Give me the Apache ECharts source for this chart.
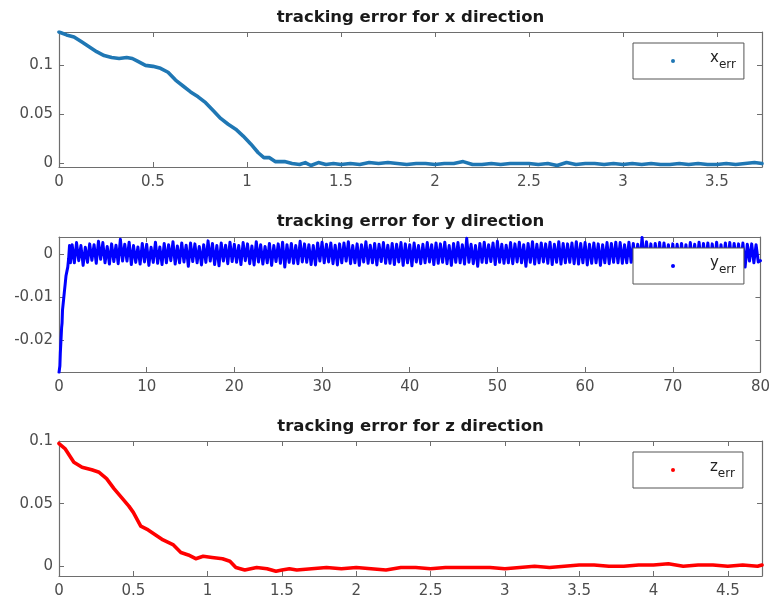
<!DOCTYPE html>
<html>
<head>
<meta charset="utf-8">
<script src="https://cdn.jsdelivr.net/npm/echarts@6/dist/echarts.min.js"></script>
<style>
  html, body { margin: 0; padding: 0; background: #fff; }
  #chart { width: 773px; height: 608px; }
</style>
</head>
<body>
<div id="chart"></div>
<script>
// ---------- data ----------
var titles = ['tracking error for x direction', 'tracking error for y direction', 'tracking error for z direction'];
var seriesNames = ['x_err', 'y_err', 'z_err'];

var xErr = [[0,0.134],[0.04,0.131],[0.08,0.129],[0.12,0.124],[0.16,0.119],[0.2,0.114],[0.24,0.110],[0.28,0.108],[0.32,0.107],[0.36,0.108],[0.39,0.107],[0.42,0.104],[0.46,0.100],[0.5,0.099],[0.54,0.097],[0.58,0.093],[0.62,0.085],[0.66,0.079],[0.7,0.073],[0.74,0.068],[0.78,0.062],[0.82,0.054],[0.86,0.046],[0.9,0.040],[0.94,0.035],[0.98,0.028],[1.02,0.020],[1.06,0.011],[1.09,0.006],[1.12,0.006],[1.15,0.002],[1.2,0.002],[1.24,0.000],[1.28,-0.001],[1.31,0.001],[1.34,-0.002],[1.38,0.001],[1.42,-0.001],[1.46,0.000],[1.5,-0.001],[1.55,0.000],[1.6,-0.001],[1.65,0.001],[1.7,0.000],[1.75,0.001],[1.8,0.000],[1.85,-0.001],[1.9,0.000],[1.95,0.000],[2.0,-0.001],[2.05,0.000],[2.1,0.000],[2.15,0.002],[2.2,-0.001],[2.25,-0.001],[2.3,0.000],[2.35,-0.001],[2.4,0.000],[2.45,0.000],[2.5,0.000],[2.55,-0.001],[2.6,0.000],[2.65,-0.002],[2.7,0.001],[2.75,-0.001],[2.8,0.000],[2.85,0.000],[2.9,-0.001],[2.95,0.000],[3.0,-0.001],[3.05,0.000],[3.1,-0.001],[3.15,0.000],[3.2,-0.001],[3.25,-0.001],[3.3,0.000],[3.35,-0.001],[3.4,0.000],[3.45,-0.001],[3.5,-0.001],[3.55,0.000],[3.6,-0.001],[3.65,0.000],[3.7,0.001],[3.74,0.000]];

var yErr = [[0,-0.0275],[0.1,-0.026],[0.15,-0.023],[0.2,-0.021],[0.25,-0.019],[0.3,-0.017],[0.35,-0.016],[0.4,-0.013],[0.5,-0.011],[0.6,-0.009],[0.7,-0.007],[0.8,-0.005],[0.9,-0.004],[1.0,-0.003],[1.1,-0.001],[1.2,0.002],[1.3,-0.002],
[1.5,0.0022],[1.75,-0.0020],[2,0.0027],[2.25,-0.0015],[2.5,0.0020],[2.75,-0.0026],[3,0.0016],[3.25,-0.0019],[3.5,0.0024],[3.75,-0.0014],[4,0.0022],[4.25,-0.0021],[4.5,0.0030],[4.75,-0.0012],[5,0.0027],[5.25,-0.0020],[5.5,0.0018],[5.75,-0.0023],[6,0.0024],[6.25,-0.0017],
[6.5,0.0021],[6.75,-0.0022],[7,0.0035],[7.25,-0.0016],[7.5,0.0023],[7.75,-0.0016],[8,0.0028],[8.25,-0.0024],[8.5,0.0020],[8.75,-0.0019],[9,0.0017],[9.25,-0.0023],[9.5,0.0025],[9.75,-0.0018],[10,0.0023],[10.25,-0.0026],[10.5,0.0016],[10.75,-0.0019],[11,0.0028],[11.25,-0.0021],
[11.5,0.0017],[11.75,-0.0024],[12,0.0025],[12.25,-0.0020],[12.5,0.0022],[12.75,-0.0015],[13,0.0029],[13.25,-0.0023],[13.5,0.0019],[13.75,-0.0020],[14,0.0026],[14.25,-0.0018],[14.5,0.0021],[14.75,-0.0028],[15,0.0026],[15.25,-0.0017],[15.5,0.0024],[15.75,-0.0020],[16,0.0018],[16.25,-0.0025],
[16.5,0.0022],[16.75,-0.0019],[17,0.0031],[17.25,-0.0016],[17.5,0.0025],[17.75,-0.0024],[18,0.0020],[18.25,-0.0027],[18.5,0.0026],[18.75,-0.0016],[19,0.0021],[19.25,-0.0022],[19.5,0.0028],[19.75,-0.0017],[20,0.0023],[20.25,-0.0019],[20.5,0.0020],[20.75,-0.0024],[21,0.0027],[21.25,-0.0015],
[21.5,0.0024],[21.75,-0.0022],[22,0.0019],[22.25,-0.0025],[22.5,0.0029],[22.75,-0.0018],[23,0.0022],[23.25,-0.0023],[23.5,0.0018],[23.75,-0.0020],[24,0.0025],[24.25,-0.0026],[24.5,0.0020],[24.75,-0.0017],[25,0.0024],[25.25,-0.0021],[25.5,0.0028],[25.75,-0.0030],[26,0.0022],[26.25,-0.0019],
[26.5,0.0025],[26.75,-0.0021],[27,0.0020],[27.25,-0.0022],[27.5,0.0030],[27.75,-0.0018],[28,0.0024],[28.25,-0.0019],[28.5,0.0022],[28.75,-0.0024],[29,0.0020],[29.25,-0.0025],[29.5,0.0026],[29.75,-0.0016],[30,0.0028],[30.25,-0.0020],[30.5,0.0023],[30.75,-0.0018],[31,0.0026],[31.25,-0.0022],
[31.5,0.0021],[31.75,-0.0025],[32,0.0024],[32.25,-0.0020],[32.5,0.0026],[32.75,-0.0016],[33,0.0029],[33.25,-0.0022],[33.5,0.0020],[33.75,-0.0020],[34,0.0024],[34.25,-0.0026],[34.5,0.0022],[34.75,-0.0018],[35,0.0029],[35.25,-0.0021],[35.5,0.0021],[35.75,-0.0020],[36,0.0025],[36.25,-0.0025],
[36.5,0.0023],[36.75,-0.0017],[37,0.0027],[37.25,-0.0021],[37.5,0.0021],[37.75,-0.0021],[38,0.0025],[38.25,-0.0024],[38.5,0.0023],[38.75,-0.0018],[39,0.0027],[39.25,-0.0026],[39.5,0.0024],[39.75,-0.0020],[40,0.0022],[40.25,-0.0027],[40.5,0.0026],[40.75,-0.0018],[41,0.0020],[41.25,-0.0022],
[41.5,0.0023],[41.75,-0.0020],[42,0.0027],[42.25,-0.0018],[42.5,0.0022],[42.75,-0.0024],[43,0.0026],[43.25,-0.0021],[43.5,0.0024],[43.75,-0.0019],[44,0.0028],[44.25,-0.0022],[44.5,0.0020],[44.75,-0.0026],[45,0.0025],[45.25,-0.0019],[45.5,0.0027],[45.75,-0.0020],[46,0.0022],[46.25,-0.0023],
[46.5,0.0037],[46.75,-0.0019],[47,0.0023],[47.25,-0.0022],[47.5,0.0020],[47.75,-0.0028],[48,0.0025],[48.25,-0.0019],[48.5,0.0028],[48.75,-0.0020],[49,0.0022],[49.25,-0.0017],[49.5,0.0026],[49.75,-0.0024],[50,0.0030],[50.25,-0.0019],[50.5,0.0023],[50.75,-0.0021],[51,0.0021],[51.25,-0.0020],
[51.5,0.0027],[51.75,-0.0022],[52,0.0024],[52.25,-0.0018],[52.5,0.0028],[52.75,-0.0020],[53,0.0022],[53.25,-0.0028],[53.5,0.0025],[53.75,-0.0019],[54,0.0029],[54.25,-0.0023],[54.5,0.0023],[54.75,-0.0020],[55,0.0026],[55.25,-0.0018],[55.5,0.0024],[55.75,-0.0021],[56,0.0028],[56.25,-0.0024],
[56.5,0.0023],[56.75,-0.0019],[57,0.0029],[57.25,-0.0023],[57.5,0.0025],[57.75,-0.0020],[58,0.0024],[58.25,-0.0019],[58.5,0.0026],[58.75,-0.0022],[59,0.0029],[59.25,-0.0023],[59.5,0.0025],[59.75,-0.0020],[60,0.0027],[60.25,-0.0025],[60.5,0.0023],[60.75,-0.0021],[61,0.0026],[61.25,-0.0020],
[61.5,0.0024],[61.75,-0.0026],[62,0.0022],[62.25,-0.0020],[62.5,0.0027],[62.75,-0.0022],[63,0.0025],[63.25,-0.0019],[63.5,0.0028],[63.75,-0.0020],[64,0.0027],[64.25,-0.0021],[64.5,0.0022],[64.75,-0.0020],[65,0.0028],[65.25,-0.0019],[65.5,0.0025],[65.75,-0.0022],[66,0.0023],[66.25,-0.0019],
[66.5,0.0039],[66.75,-0.0020],[67,0.0029],[67.25,-0.0019],[67.5,0.0024],[67.75,-0.0023],[68,0.0025],[68.25,-0.0020],[68.5,0.0027],[68.75,-0.0019],[69,0.0026],[69.25,-0.0017],[69.5,0.0022],[69.75,-0.0030],[70,0.0024],[70.25,-0.0015],[70.5,0.0023],[70.75,-0.0021],[71,0.0025],[71.25,-0.0020],
[71.5,0.0022],[71.75,-0.0023],[72,0.0027],[72.25,-0.0018],[72.5,0.0023],[72.75,-0.0021],[73,0.0028],[73.25,-0.0022],[73.5,0.0025],[73.75,-0.0019],[74,0.0026],[74.25,-0.0021],[74.5,0.0024],[74.75,-0.0020],[75,0.0028],[75.25,-0.0023],[75.5,0.0022],[75.75,-0.0019],[76,0.0026],[76.25,-0.0020],
[76.5,0.0027],[76.75,-0.0019],[77,0.0025],[77.25,-0.0018],[77.5,0.0024],[77.75,-0.0022],[78,0.0026],[78.25,-0.0030],[78.5,0.0023],[78.75,-0.0016],[79,0.0024],[79.25,-0.0020],[79.5,0.0022],[79.75,-0.0018],[80,-0.0015]];

var zErr = [[0,0.098],[0.04,0.094],[0.1,0.083],[0.155,0.079],[0.22,0.077],[0.27,0.075],[0.32,0.070],[0.37,0.062],[0.42,0.055],[0.47,0.048],[0.5,0.043],[0.55,0.032],[0.6,0.029],[0.65,0.025],[0.7,0.021],[0.77,0.017],[0.82,0.011],[0.87,0.009],[0.92,0.006],[0.97,0.008],[1.03,0.007],[1.1,0.006],[1.15,0.004],[1.19,-0.001],[1.25,-0.003],[1.33,-0.001],[1.4,-0.002],[1.46,-0.004],[1.5,-0.003],[1.55,-0.002],[1.6,-0.003],[1.7,-0.002],[1.8,-0.001],[1.9,-0.002],[2.0,-0.001],[2.1,-0.002],[2.2,-0.003],[2.3,-0.001],[2.4,-0.001],[2.5,-0.002],[2.6,-0.001],[2.7,-0.001],[2.8,-0.001],[2.9,-0.001],[3.0,-0.002],[3.1,-0.001],[3.2,0.000],[3.3,-0.001],[3.4,0.000],[3.5,0.001],[3.6,0.001],[3.7,0.000],[3.8,0.000],[3.9,0.001],[4.0,0.001],[4.1,0.002],[4.2,0.000],[4.3,0.001],[4.4,0.001],[4.5,0.000],[4.6,0.001],[4.7,0.000],[4.73,0.001]];

// axis ranges and ticks
var xRange1 = [0, 3.74], yRange1 = [-0.0035, 0.134];
var xRange2 = [0, 80],   yRange2 = [-0.0274, 0.004];
var xRange3 = [0, 4.73], yRange3 = [-0.0078, 0.1];
var xTicks1 = [0, 0.5, 1, 1.5, 2, 2.5, 3, 3.5];
var yTicks1 = [0, 0.05, 0.1];
var xTicks2 = [0, 10, 20, 30, 40, 50, 60, 70, 80];
var yTicks2 = [-0.02, -0.01, 0];
var xTicks3 = [0, 0.5, 1, 1.5, 2, 2.5, 3, 3.5, 4, 4.5];
var yTicks3 = [0, 0.05, 0.1];

var colors = ['#1f77b4', '#0000ff', '#ff0000'];
</script>
<script>
var chart = echarts.init(document.getElementById('chart'), null, { renderer: 'canvas' });
var FONT = 'DejaVu Sans';
var gridTops = [32, 237, 441];
var titleTops = [9, 213, 418];
var axisColor = '#6e6e6e';
var labelColor = '#4d4d4d';

function mkGrid(top) { return { left: 59, top: top, width: 703, height: 135, containLabel: false }; }

var xRanges = [xRange1, xRange2, xRange3];
var yRanges = [yRange1, yRange2, yRange3];
var xTicks = [xTicks1, xTicks2, xTicks3];
var yTicks = [yTicks1, yTicks2, yTicks3];
var data = [xErr, yErr, zErr];

var xAxes = [], yAxes = [], series = [], legends = [], titleArr = [], grids = [];
for (var i = 0; i < 3; i++) {
  grids.push(mkGrid(gridTops[i]));
  var base = {
    type: 'value', gridIndex: i, min: xRanges[i][0], max: xRanges[i][1],
    axisLine: { show: true, onZero: false, lineStyle: { color: axisColor, width: 1.2 } },
    splitLine: { show: false }
  };
  xAxes.push(Object.assign({}, base, {
    position: 'bottom',
    axisTick: { show: true, inside: true, length: 5, customValues: xTicks[i], lineStyle: { color: axisColor } },
    axisLabel: { show: true, customValues: xTicks[i], margin: 8, color: labelColor, fontSize: 15, fontFamily: FONT,
      formatter: function (v) { return String(v); } }
  }));
  xAxes.push(Object.assign({}, base, {
    position: 'top',
    axisTick: { show: true, inside: true, length: 5, customValues: xTicks[i], lineStyle: { color: axisColor } },
    axisLabel: { show: false }
  }));
  var ybase = {
    type: 'value', gridIndex: i, min: yRanges[i][0], max: yRanges[i][1],
    axisLine: { show: true, onZero: false, lineStyle: { color: axisColor, width: 1.2 } },
    splitLine: { show: false }
  };
  yAxes.push(Object.assign({}, ybase, {
    position: 'left',
    axisTick: { show: true, inside: true, length: 5, customValues: yTicks[i], lineStyle: { color: axisColor } },
    axisLabel: { show: true, customValues: yTicks[i], margin: 6, color: labelColor, fontSize: 15, fontFamily: FONT,
      formatter: function (v) { return String(v); } }
  }));
  yAxes.push(Object.assign({}, ybase, {
    position: 'right',
    axisTick: { show: true, inside: true, length: 5, customValues: yTicks[i], lineStyle: { color: axisColor } },
    axisLabel: { show: false }
  }));
  series.push({
    name: seriesNames[i], type: 'line', xAxisIndex: i * 2, yAxisIndex: i * 2,
    data: data[i], showSymbol: false, symbol: 'circle', clip: true, animation: false,
    sampling: null,
    itemStyle: { color: colors[i] },
    lineStyle: { color: colors[i], width: i === 1 ? 3 : 3.6, join: 'round', cap: 'round' }
  });
  legends.push({
    data: [seriesNames[i]], left: 633, top: gridTops[i] + 11, orient: 'horizontal',
    icon: 'circle', itemWidth: 4, itemHeight: 4,
    padding: [8, 8, 8, 38],
    borderColor: '#555', borderWidth: 1, backgroundColor: '#fff',
    selectedMode: false,
    formatter: function (name) { return '{b|' + name.charAt(0) + '}{s|err}'; },
    textStyle: {
      fontFamily: FONT, color: '#222',
      rich: {
        b: { fontSize: 15, fontFamily: FONT, color: '#222', padding: [0, 0, 0, 30], lineHeight: 20, verticalAlign: 'top' },
        s: { fontSize: 12, fontFamily: FONT, color: '#222', lineHeight: 20, verticalAlign: 'bottom', padding: [6, 0, 0, 0] }
      }
    }
  });
  titleArr.push({
    text: titles[i], left: 410.5, top: titleTops[i], textAlign: 'center', padding: 0,
    textStyle: { fontFamily: FONT, fontWeight: 'bold', fontSize: 16.5, color: '#1a1a1a' }
  });
}

chart.setOption({
  backgroundColor: '#fff',
  animation: false,
  title: titleArr,
  grid: grids,
  xAxis: xAxes,
  yAxis: yAxes,
  legend: legends,
  series: series
});
</script>
</body>
</html>
